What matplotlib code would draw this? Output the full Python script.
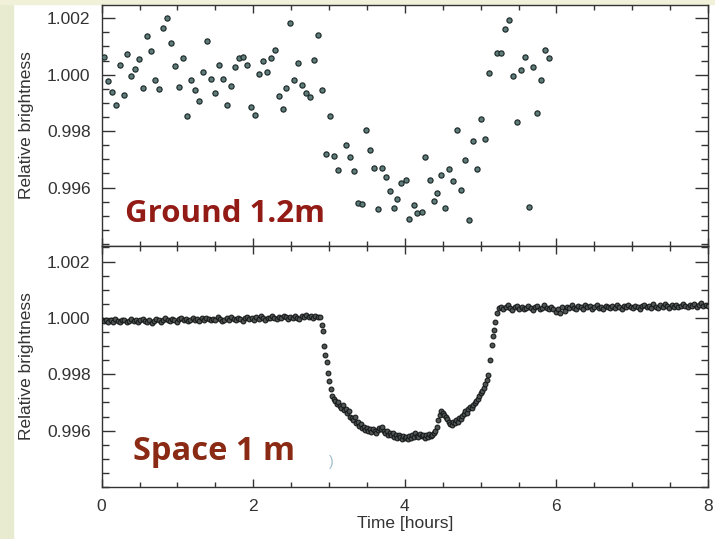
import matplotlib
matplotlib.use("Agg")
import matplotlib.pyplot as plt
from matplotlib.ticker import MultipleLocator, FormatStrFormatter
import numpy as np

plt.rcParams["font.family"] = ["Liberation Sans", "DejaVu Sans"]

# ground based light curve (1.2 m telescope)
ground_t = [0.030, 0.079, 0.136, 0.185, 0.237, 0.290, 0.338, 0.391, 0.443, 0.496,
            0.549, 0.598, 0.654, 0.707, 0.760, 0.813, 0.865, 0.918, 0.971, 1.024,
            1.077, 1.129, 1.182, 1.235, 1.288, 1.340, 1.393, 1.446, 1.499, 1.551,
            1.604, 1.657, 1.710, 1.763, 1.807, 1.864, 1.917, 1.970, 2.022, 2.071,
            2.124, 2.177, 2.230, 2.282, 2.335, 2.388, 2.435, 2.488, 2.541, 2.594,
            2.646, 2.699, 2.752, 2.805, 2.858, 2.910, 2.963, 3.012, 3.069, 3.121,
            3.223, 3.276, 3.329, 3.377, 3.434, 3.483, 3.536, 3.588, 3.645, 3.694,
            3.747, 3.800, 3.852, 3.902, 3.955, 4.011, 4.061, 4.117, 4.166, 4.222,
            4.272, 4.327, 4.380, 4.430, 4.483, 4.533, 4.586, 4.639, 4.690, 4.744,
            4.796, 4.846, 4.898, 4.951, 5.004, 5.061, 5.113, 5.215, 5.268, 5.321,
            5.377, 5.426, 5.479, 5.532, 5.584, 5.637, 5.690, 5.743, 5.796, 5.848,
            5.901]
ground_f = [1.00062, 0.99976, 0.99940, 0.99892, 1.00033, 0.99929, 1.00075, 0.99994, 1.00022, 1.00054,
            0.99953, 1.00137, 1.00085, 0.99982, 0.99950, 1.00167, 1.00201, 1.00112, 1.00031, 0.99958,
            1.00060, 0.99855, 0.99980, 0.99947, 0.99908, 1.00010, 1.00119, 0.99985, 0.99935, 1.00036,
            0.99986, 0.99893, 0.99959, 1.00026, 1.00058, 1.00064, 1.00036, 0.99885, 0.99858, 1.00002,
            1.00050, 1.00008, 1.00058, 1.00089, 0.99923, 0.99878, 0.99952, 1.00185, 0.99982, 1.00043,
            0.99965, 0.99936, 0.99922, 1.00053, 1.00142, 0.99946, 0.99718, 0.99852, 0.99713, 0.99664,
            0.99750, 0.99710, 0.99660, 0.99547, 0.99543, 0.99803, 0.99732, 0.99669, 0.99523, 0.99668,
            0.99638, 0.99589, 0.99527, 0.99561, 0.99618, 0.99627, 0.99489, 0.99538, 0.99510, 0.99512,
            0.99709, 0.99628, 0.99552, 0.99582, 0.99646, 0.99529, 0.99665, 0.99622, 0.99804, 0.99591,
            0.99699, 0.99486, 0.99764, 0.99666, 0.99842, 0.99772, 1.00006, 1.00076, 1.00078, 1.00163,
            1.00195, 0.99995, 0.99834, 1.00017, 1.00064, 0.99530, 1.00026, 0.99866, 0.99983, 1.00089,
            1.00060]

# space based light curve (1 m telescope), before the transit
space_pre_t = [0.00, 0.03, 0.06, 0.09, 0.12, 0.15, 0.18, 0.21, 0.24, 0.27,
               0.30, 0.33, 0.36, 0.39, 0.42, 0.45, 0.48, 0.51, 0.54, 0.57,
               0.60, 0.63, 0.66, 0.69, 0.72, 0.75, 0.78, 0.81, 0.84, 0.87,
               0.90, 0.93, 0.96, 0.99, 1.02, 1.05, 1.08, 1.11, 1.14, 1.17,
               1.20, 1.23, 1.26, 1.29, 1.32, 1.35, 1.38, 1.41, 1.44, 1.47,
               1.50, 1.53, 1.56, 1.59, 1.62, 1.65, 1.68, 1.71, 1.74, 1.77,
               1.80, 1.83, 1.86, 1.89, 1.92, 1.95, 1.98, 2.01, 2.04, 2.07,
               2.10, 2.13, 2.16, 2.19, 2.22, 2.25, 2.28, 2.31, 2.34, 2.37,
               2.40, 2.43, 2.46, 2.49, 2.52, 2.55, 2.58, 2.61, 2.64, 2.67,
               2.70, 2.73, 2.76, 2.79, 2.82, 2.85, 2.88]
# brightness offsets from 1, in units of 1e-5
space_pre_d = [-6, -12, -9, -15, -8, -13, -5, -11, -16, -9,
               -7, -14, -10, -4, -12, -8, -15, -6, -3, -10,
               -13, -7, -17, -11, -5, -9, -14, -6, -2, -8,
               -12, -5, -9, -15, -4, -1, -7, -3, -10, -6,
               0, -8, -4, -11, -2, -6, 1, -5, -9, -3,
               -7, 2, -4, -12, -6, -1, -8, 3, -3, -7,
               0, -5, -10, -2, 4, -4, -1, -8, 2, -3,
               5, -1, -6, 1, -2, 6, 0, -5, 3, -1,
               7, 2, -3, 4, 0, 8, 1, -4, 5, 2,
               9, 3, 6, 1, 8, 4, 2]

# ingress, bottom of the transit and egress
space_tr_t = [2.902, 2.918, 2.934, 2.951, 2.968, 2.986, 3.003, 3.021, 3.042,
              3.06, 3.08, 3.10, 3.12, 3.14, 3.16, 3.18, 3.20, 3.22, 3.24,
              3.26, 3.28, 3.30, 3.32, 3.34, 3.36, 3.38, 3.40, 3.42, 3.44,
              3.46, 3.48, 3.50, 3.52, 3.54, 3.56, 3.58, 3.60, 3.62, 3.64,
              3.66, 3.68, 3.70, 3.72, 3.74, 3.76, 3.78, 3.80, 3.82, 3.84,
              3.86, 3.88, 3.90, 3.92, 3.94, 3.96, 3.98, 4.00, 4.02, 4.04,
              4.06, 4.08, 4.10, 4.12, 4.14, 4.16, 4.18, 4.20, 4.22, 4.24,
              4.26, 4.28, 4.30, 4.32, 4.34, 4.36, 4.38, 4.40, 4.42, 4.44,
              4.46, 4.48, 4.50, 4.52, 4.54, 4.56, 4.58, 4.60, 4.62, 4.64,
              4.66, 4.68, 4.70, 4.72, 4.74, 4.76, 4.78, 4.80, 4.82, 4.84,
              4.86, 4.88, 4.90, 4.92, 4.94, 4.96, 4.98, 5.00, 5.02, 5.04,
              5.06, 5.078, 5.100, 5.127, 5.145, 5.158, 5.170, 5.188, 5.210]
space_tr_f = [0.99975, 0.99952, 0.99899, 0.99870, 0.99843, 0.99805, 0.99776, 0.99747, 0.99723,
              0.99713, 0.99706, 0.99696, 0.99702, 0.99688, 0.99681, 0.99690, 0.99674, 0.99678, 0.99661,
              0.99668, 0.99650, 0.99645, 0.99639, 0.99648, 0.99626, 0.99630, 0.99616, 0.99622, 0.99608,
              0.99612, 0.99603, 0.99610, 0.99598, 0.99605, 0.99596, 0.99604, 0.99598, 0.99593, 0.99601,
              0.99610, 0.99604, 0.99612, 0.99597, 0.99590, 0.99598, 0.99586, 0.99592, 0.99584, 0.99590,
              0.99579, 0.99586, 0.99575, 0.99583, 0.99578, 0.99571, 0.99580, 0.99574, 0.99579, 0.99570,
              0.99581, 0.99575, 0.99586, 0.99578, 0.99590, 0.99582, 0.99576, 0.99588, 0.99580, 0.99585,
              0.99574, 0.99583, 0.99578, 0.99587, 0.99580, 0.99584, 0.99590, 0.99598, 0.99612, 0.99636,
              0.99655, 0.99668, 0.99663, 0.99657, 0.99648, 0.99640, 0.99630, 0.99624, 0.99621, 0.99630,
              0.99626, 0.99636, 0.99632, 0.99645, 0.99640, 0.99652, 0.99660, 0.99668, 0.99664, 0.99678,
              0.99683, 0.99679, 0.99690, 0.99697, 0.99705, 0.99712, 0.99722, 0.99733, 0.99742, 0.99752,
              0.99766, 0.99778, 0.99799, 0.99852, 0.99905, 0.99934, 0.99958, 0.99987, 1.00016]

# after the transit
space_post_t = [5.24, 5.27, 5.30, 5.33, 5.36, 5.39, 5.42, 5.45, 5.48, 5.51,
                5.54, 5.57, 5.60, 5.63, 5.66, 5.69, 5.72, 5.75, 5.78, 5.81,
                5.84, 5.87, 5.90, 5.93, 5.96, 5.99, 6.02, 6.05, 6.08, 6.11,
                6.14, 6.17, 6.20, 6.23, 6.26, 6.29, 6.32, 6.35, 6.38, 6.41,
                6.44, 6.47, 6.50, 6.53, 6.56, 6.59, 6.62, 6.65, 6.68, 6.71,
                6.74, 6.77, 6.80, 6.83, 6.86, 6.89, 6.92, 6.95, 6.98, 7.01,
                7.04, 7.07, 7.10, 7.13, 7.16, 7.19, 7.22, 7.25, 7.28, 7.31,
                7.34, 7.37, 7.40, 7.43, 7.46, 7.49, 7.52, 7.55, 7.58, 7.61,
                7.64, 7.67, 7.70, 7.73, 7.76, 7.79, 7.82, 7.85, 7.88, 7.91,
                7.94, 7.97, 8.00]
space_post_d = [34, 40, 31, 38, 44, 35, 29, 37, 42, 33,
                39, 30, 36, 43, 34, 28, 38, 41, 32, 36,
                44, 35, 30, 39, 33, 22, 31, 18, 37, 26,
                40, 34, 45, 36, 31, 42, 38, 33, 46, 37,
                41, 32, 39, 44, 35, 40, 31, 43, 37, 34,
                41, 36, 45, 38, 33, 42, 37, 47, 39, 35,
                43, 38, 32, 41, 46, 37, 42, 34, 48, 40,
                36, 44, 39, 49, 41, 35, 45, 40, 47, 38,
                43, 50, 42, 37, 46, 41, 48, 39, 44, 51,
                43, 47, 42]

yticks = [0.996, 0.998, 1.000, 1.002]

space_t = space_pre_t + space_tr_t + space_post_t
space_f = list(1 + np.array(space_pre_d) * 1e-5) + space_tr_f + list(1 + np.array(space_post_d) * 1e-5)

fig = plt.figure(figsize=(7.15, 5.39), dpi=100)
fig.patch.set_facecolor("white")

# slide background strips
fig.add_artist(plt.Rectangle((0, 0), 13 / 715, 1, transform=fig.transFigure,
                             color="#e8ebd0", zorder=0))
fig.add_artist(plt.Rectangle((0, 1 - 4 / 539), 1, 4 / 539, transform=fig.transFigure,
                             color="#f1f1da", zorder=0))

ax1 = fig.add_axes([0.1422, 0.5436, 0.848, 0.4471])
ax2 = fig.add_axes([0.1422, 0.0965, 0.848, 0.4471])

ax1.scatter(ground_t, ground_f, s=14, facecolor="#5e7d7a", edgecolor="#1c2828",
            linewidth=0.85, zorder=3)
ax2.scatter(space_t, space_f, s=12, facecolor="#4f5554", edgecolor="#151717",
            linewidth=0.75, zorder=3)

for ax in (ax1, ax2):
    ax.set_xlim(0, 8)
    ax.set_yticks(yticks)
    ax.yaxis.set_major_formatter(FormatStrFormatter("%.3f"))
    ax.yaxis.set_minor_locator(MultipleLocator(0.0005))
    ax.xaxis.set_major_locator(MultipleLocator(2))
    ax.xaxis.set_minor_locator(MultipleLocator(0.5))
    ax.tick_params(axis="both", which="both", direction="in", top=True, right=True,
                   colors="#333333", labelsize=12.5)
    ax.tick_params(axis="y", which="major", length=9.5, width=1.0, pad=8)
    ax.tick_params(axis="y", which="minor", length=5, width=1.0)
    ax.tick_params(axis="x", which="major", length=6, width=1.0, pad=9)
    ax.tick_params(axis="x", which="minor", length=3.5, width=1.0)
    for sp in ax.spines.values():
        sp.set_color("#333333")
        sp.set_linewidth(1.0)
    ax.set_ylabel("Relative brightness", fontsize=12.5, color="#333333", labelpad=9)

ax1.set_ylim(0.99393, 1.00247)
ax2.set_ylim(0.99400, 1.00255)
ax1.tick_params(axis="x", labelbottom=False)
ax2.set_xlabel("Time [hours]", fontsize=12.5, color="#333333", labelpad=1)

ax1.text(0.31, 0.99478, "Ground 1.2m", fontsize=22.5, fontweight="bold",
         family=["Open Sans", "DejaVu Sans"], color="#931b16", va="baseline")
ax2.text(0.41, 0.99494, "Space 1 m", fontsize=23.5, fontweight="bold",
         family=["Open Sans", "DejaVu Sans"], color="#8a2a14", va="baseline")
ax2.text(3.0, 0.99475, ")", fontsize=10, color="#9dbccb", va="baseline")

fig.savefig("out.png", dpi=100)
